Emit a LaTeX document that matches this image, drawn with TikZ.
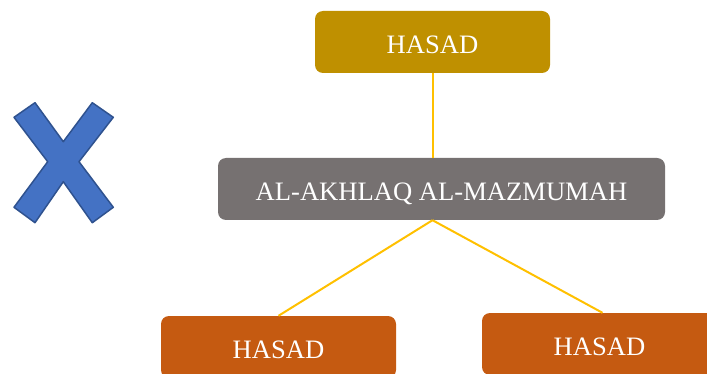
\documentclass[tikz,border=0pt]{standalone}
\usepackage{fontspec}
\setmainfont{Liberation Serif}
\definecolor{gold}{HTML}{BF9000}
\definecolor{greybox}{HTML}{767171}
\definecolor{rust}{HTML}{C55A11}
\definecolor{conn}{HTML}{FFC000}
\definecolor{xblue}{HTML}{4472C4}
\definecolor{xedge}{HTML}{2F528F}
\tikzset{
  box/.style={rectangle, rounded corners=8pt, inner sep=0pt, minimum height=62pt,
    text=white, font=\fontsize{26.6}{30}\selectfont, text height=23pt, text depth=0pt},
  link/.style={draw=conn, line width=2pt}
}
\begin{document}
\begin{tikzpicture}[x=1pt,y=-1pt]
\useasboundingbox (0,0) rectangle (707,374);
\clip (0,0) rectangle (707,374);
\node[box, fill=gold, minimum width=235pt] (top) at (432.5,42) {HASAD};
\node[box, fill=greybox, minimum width=447pt] (mid) at (441.5,189) {AL-AKHLAQ AL-MAZMUMAH};
\node[box, fill=rust, minimum width=235pt] (left) at (278.5,347) {HASAD};
\node[box, fill=rust, minimum width=235pt] (right) at (599.5,344) {HASAD};
\coordinate (hub) at (top.south |- mid.south);
\draw[link] (top.south) -- (top.south |- mid.north);
\draw[link] (hub) -- (left.north);
\draw[link] (hub) -- ([xshift=3pt]right.north);
\draw[fill=xblue, draw=xedge, line width=1.5pt, line join=round]
  (14,117.3) -- (35,102.7) -- (63.3,141.7) -- (92.3,102.7) -- (113.3,117.3)
  -- (79,161.7) -- (113.3,207.3) -- (92.3,222.7) -- (63.3,181.7)
  -- (35,222.7) -- (14,207.3) -- (47.7,161.7) -- cycle;
\end{tikzpicture}
\end{document}
